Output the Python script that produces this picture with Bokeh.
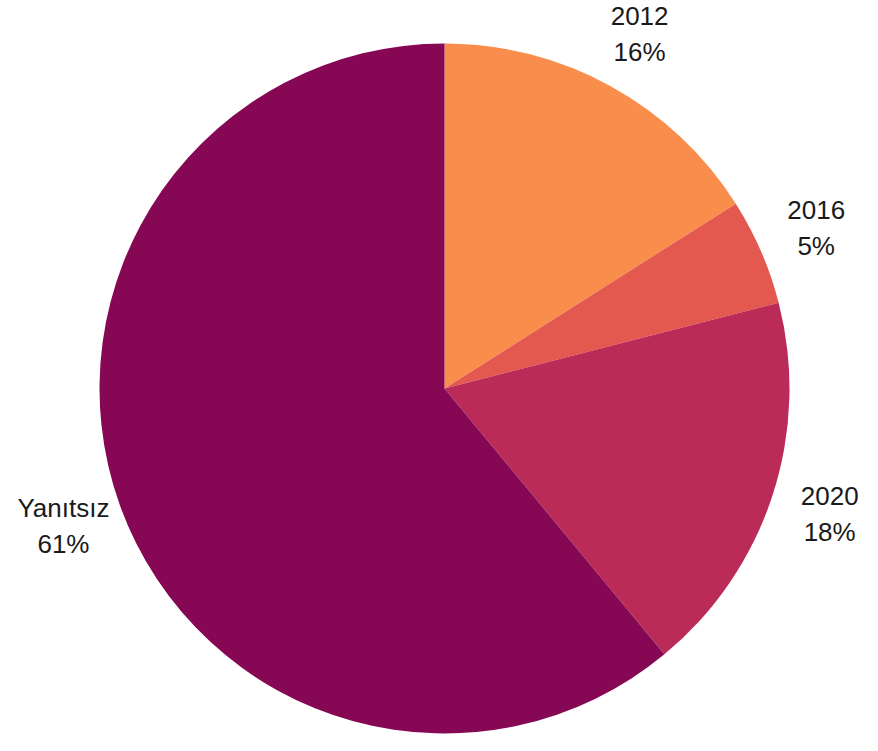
import math
from bokeh.plotting import figure
from bokeh.models import ColumnDataSource
from bokeh.core.properties import value
from bokeh.embed import file_html
from bokeh.resources import INLINE

categories = ["2012", "2016", "2020", "Yanıtsız"]
percents = [16, 5, 18, 61]
colors = ["#F98E4C", "#E3584F", "#BB2B58", "#860855"]

W, H = 862, 735
cx, cy, R = 444, 347, 345
label_r = 405
line_gap = 18

total = sum(percents)
starts, ends, lx, ly = [], [], [], []
cum = 0.0
for v in percents:
    a0 = math.pi / 2 - 2 * math.pi * cum / total
    a1 = math.pi / 2 - 2 * math.pi * (cum + v) / total
    starts.append(a0)
    ends.append(a1)
    mid = (a0 + a1) / 2
    lx.append(cx + label_r * math.cos(mid))
    ly.append(cy + label_r * math.sin(mid))
    cum += v

src = ColumnDataSource(dict(
    cat=categories,
    pct=[f"{v}%" for v in percents],
    start=starts, end=ends, color=colors,
    lx=lx, ly1=[y + line_gap for y in ly], ly2=[y - line_gap for y in ly],
    cx=[cx] * len(categories), cy=[cy] * len(categories),
))

p = figure(width=W, height=H, x_range=(0, W), y_range=(0, H),
           output_backend="svg", toolbar_location=None,
           min_border=0, outline_line_color=None)
p.axis.visible = False
p.grid.visible = False
p.background_fill_color = "white"
p.border_fill_color = "white"

p.wedge(x="cx", y="cy", radius=R, start_angle="start", end_angle="end",
        direction="clock", fill_color="color", line_color=None, source=src)

p.text(x="lx", y="ly1", text="cat", source=src, text_align="center",
       text_baseline="middle", text_font=value("Liberation Sans"),
       text_font_size="26px", text_color="#1a1a1a")
p.text(x="lx", y="ly2", text="pct", source=src, text_align="center",
       text_baseline="middle", text_font=value("Liberation Sans"),
       text_font_size="26px", text_color="#1a1a1a")

open("out.html", "w").write(file_html(p, INLINE))
